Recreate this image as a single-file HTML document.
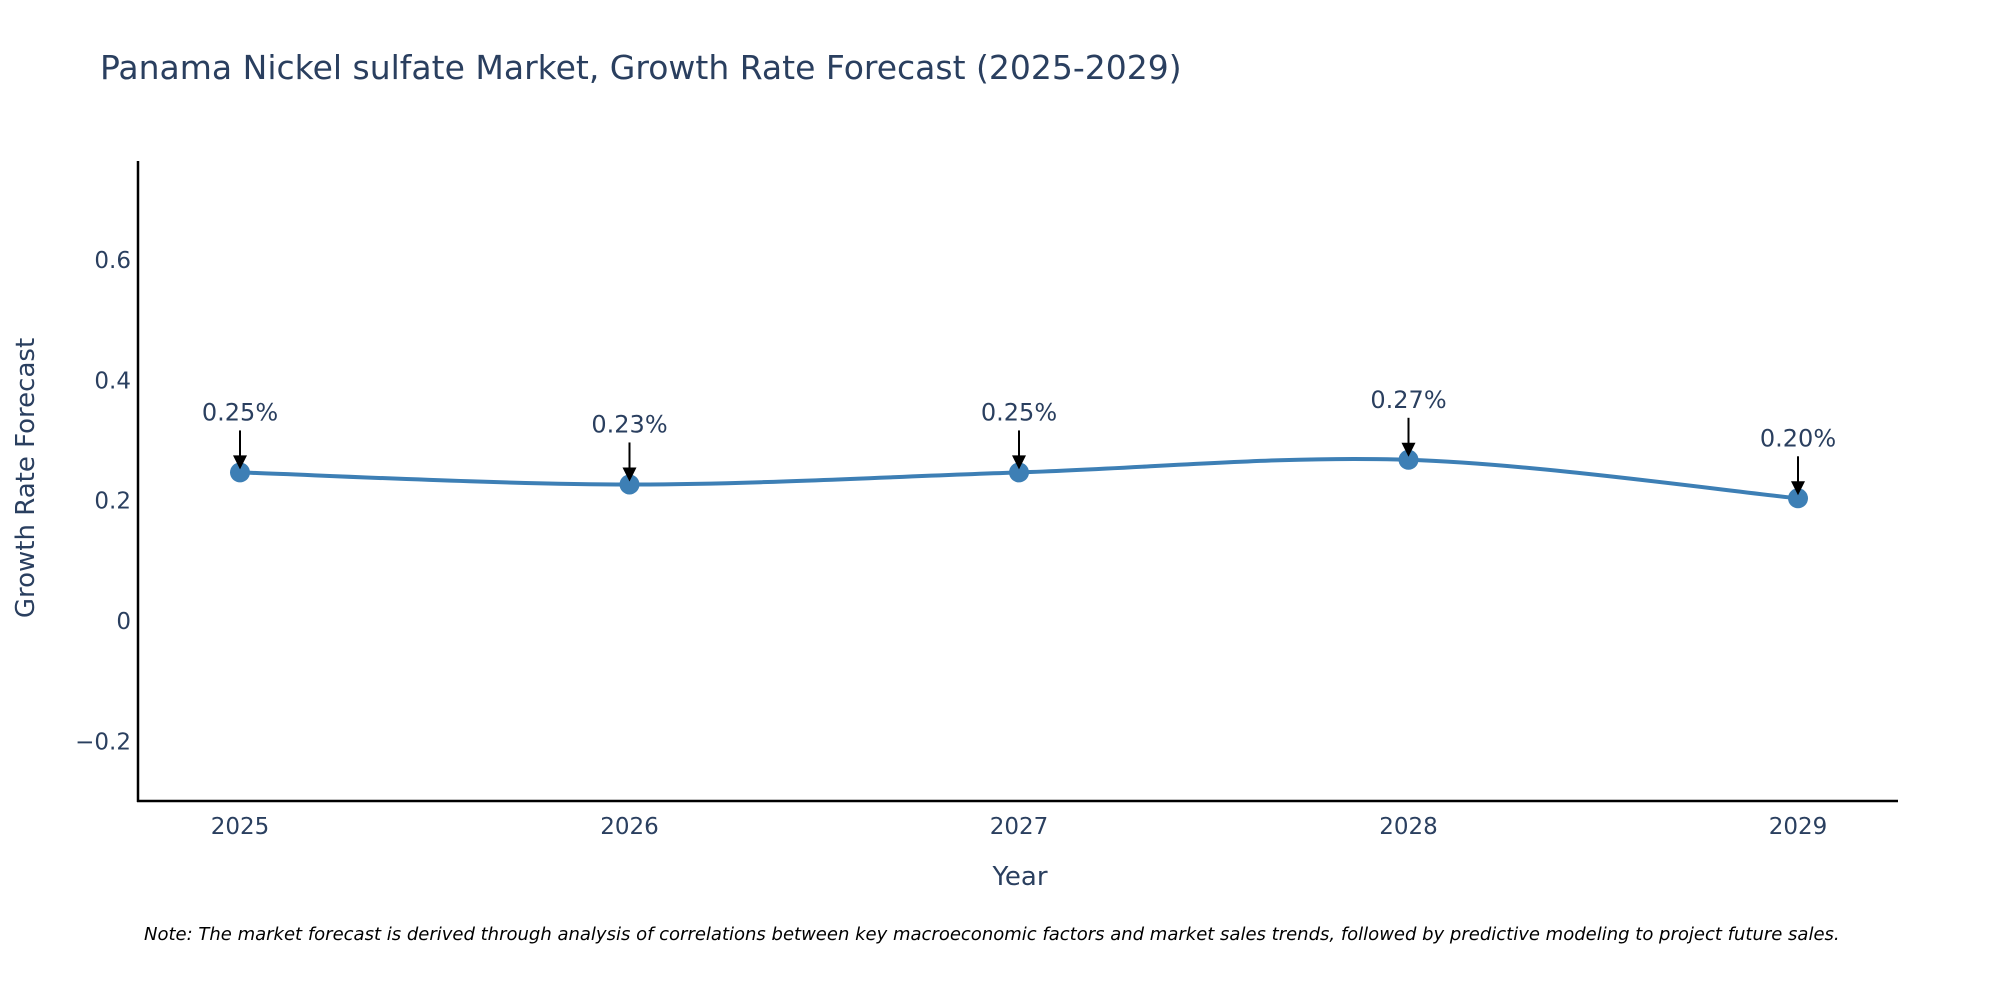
<!DOCTYPE html>
<html><head><meta charset="utf-8"><style>
body{margin:0;background:#fff;}
svg{display:block;font-family:"DejaVu Sans","Liberation Sans",sans-serif;}
</style></head><body>
<svg id="chart" width="2000" height="1000" viewBox="0 0 2000 1000">
<rect width="2000" height="1000" fill="#fff"/>
<text x="100" y="79" font-size="33" fill="#2a3f5f">Panama Nickel sulfate Market, Growth Rate Forecast (2025-2029)</text>
<g id="yticks"></g><g id="xticks"></g>
<line x1="138" y1="161" x2="138" y2="802" stroke="#000" stroke-width="2.5"/>
<line x1="137" y1="801" x2="1898" y2="801" stroke="#000" stroke-width="2.5"/>
<text x="1020" y="885" font-size="26" fill="#2a3f5f" text-anchor="middle">Year</text>
<text transform="translate(34,478) rotate(-90)" font-size="26" fill="#2a3f5f" text-anchor="middle">Growth Rate Forecast</text>
<g id="series"></g>
<text x="144" y="940" font-size="18" font-style="italic" fill="#000">Note: The market forecast is derived through analysis of correlations between key macroeconomic factors and market sales trends, followed by predictive modeling to project future sales.</text>
</svg>
<script>
const years = [2025, 2026, 2027, 2028, 2029];
const growth = [0.247, 0.227, 0.247, 0.268, 0.204];
const labels = ["0.25%", "0.23%", "0.25%", "0.27%", "0.20%"];
const yTicks = [-0.2, 0, 0.2, 0.4, 0.6];
const yTickLabels = ["\u22120.2", "0", "0.2", "0.4", "0.6"];

const NS = "http://www.w3.org/2000/svg";
function xS(v){ return 240 + (v - 2025) * 389.5; }
function yS(v){ return 621 - v * 601.5; }
function mk(tag, attrs, parent){ const e = document.createElementNS(NS, tag); for (const k in attrs) e.setAttribute(k, attrs[k]); parent.appendChild(e); return e; }

const yg = document.getElementById("yticks");
yTicks.forEach((t, i) => {
  const tx = mk("text", {x: 131, y: yS(t) + 8, "font-size": 23, fill: "#2a3f5f", "text-anchor": "end"}, yg);
  
  
  tx.textContent = yTickLabels[i];
});
const xg = document.getElementById("xticks");
years.forEach(y => {
  const tx = mk("text", {x: xS(y), y: 834, "font-size": 23, fill: "#2a3f5f", "text-anchor": "middle"}, xg);
  
  
  tx.textContent = y;
});

const sg = document.getElementById("series");
const pts = years.map((y, i) => [xS(y), yS(growth[i])]);
let d = "M" + pts[0][0] + "," + pts[0][1];
for (let i = 0; i < pts.length - 1; i++) {
  const p0 = pts[i - 1] || pts[i], p1 = pts[i], p2 = pts[i + 1], p3 = pts[i + 2] || p2;
  const c1 = [p1[0] + (p2[0] - p0[0]) / 6, p1[1] + (p2[1] - p0[1]) / 6];
  const c2 = [p2[0] - (p3[0] - p1[0]) / 6, p2[1] - (p3[1] - p1[1]) / 6];
  d += " C" + c1 + " " + c2 + " " + p2;
}
const line = mk("path", {d: d, fill: "none", stroke: "#3d7fb5", "stroke-width": 4}, sg);


pts.forEach((p, i) => {
  const c = mk("circle", {cx: p[0], cy: p[1], r: 10, fill: "#3d7fb5"}, sg);
  
  
  const a = mk("line", {x1: p[0], y1: p[1] - 42, x2: p[0], y2: p[1] - 14, stroke: "#000", "stroke-width": 2}, sg);
  
  
  const h = mk("polygon", {points: (p[0]-7)+","+(p[1]-17)+" "+(p[0]+7)+","+(p[1]-17)+" "+p[0]+","+(p[1]-3), fill: "#000"}, sg);
  
  
  const t = mk("text", {x: p[0], y: p[1] - 52, "font-size": 24, fill: "#2a3f5f", "text-anchor": "middle"}, sg);
  
  
  t.textContent = labels[i];
});
</script>
</body></html>
